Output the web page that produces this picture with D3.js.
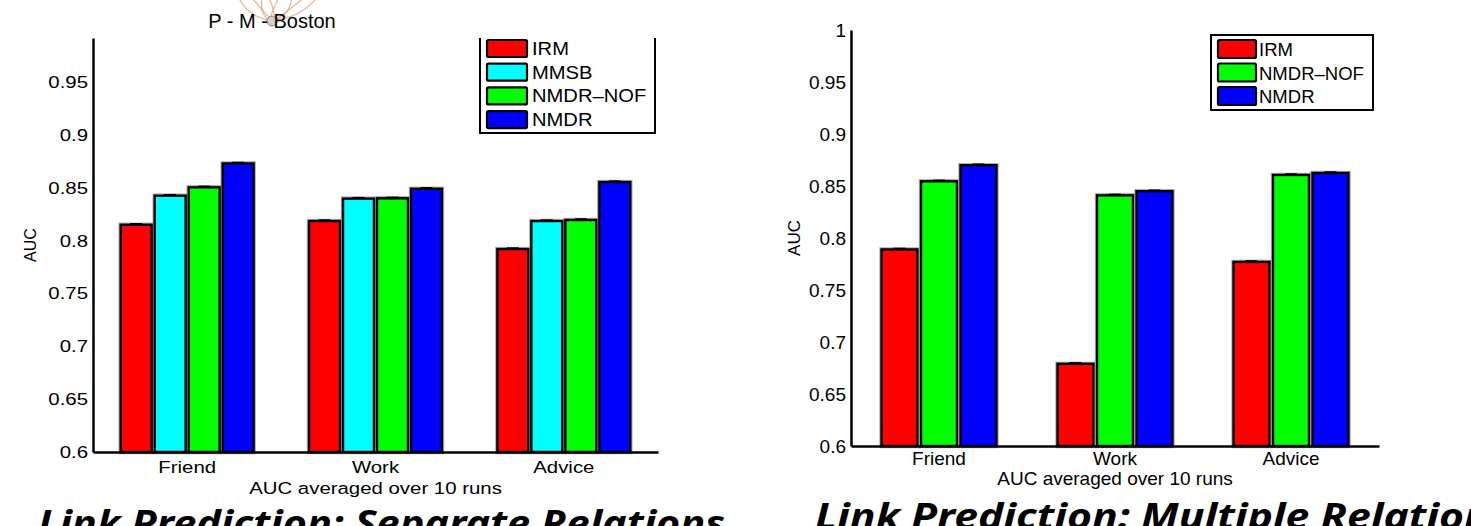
<!DOCTYPE html>
<html>
<head>
<meta charset="utf-8">
<script src="https://cdn.jsdelivr.net/npm/d3@7"></script>
<style>
  html, body { margin: 0; padding: 0; background: #fff; }
  svg { display: block; }
</style>
</head>
<body>
<div id="chart"></div>
<script>
// --- DATA ---
const categories = ["Friend", "Work", "Advice"];

// left panel: separate relations
const sepMethods = ["IRM", "MMSB", "NMDR\u2013NOF", "NMDR"];
const sepIRM  = [0.815, 0.8185, 0.792];
const sepMMSB = [0.8425, 0.8397, 0.8185];
const sepNOF  = [0.8504, 0.840, 0.8195];
const sepNMDR = [0.873, 0.849, 0.8554];
const sepTicks = [0.6, 0.65, 0.7, 0.75, 0.8, 0.85, 0.9, 0.95];

// right panel: multiple relations
const mulMethods = ["IRM", "NMDR\u2013NOF", "NMDR"];
const mulIRM  = [0.789, 0.679, 0.777];
const mulNOF  = [0.8545, 0.841, 0.8606];
const mulNMDR = [0.870, 0.845, 0.8625];
const mulTicks = [0.6, 0.65, 0.7, 0.75, 0.8, 0.85, 0.9, 0.95, 1];

const methodColor = {
  "IRM": "#ff0000",
  "MMSB": "#00ffff",
  "NMDR\u2013NOF": "#00ff00",
  "NMDR": "#0000ff"
};

const WIDTH = 1471, HEIGHT = 526;
const FONT = "'Liberation Sans', Arial, Helvetica, sans-serif";

const svg = d3.select("#chart").append("svg")
  .attr("width", WIDTH).attr("height", HEIGHT)
  .attr("viewBox", [0, 0, WIDTH, HEIGHT])
  .style("font-family", FONT);

// text placed at (x,y), optionally stretched horizontally
function label(g, x, y, s, size, sx, anchor, rotate) {
  const t = g.append("text")
    .attr("transform", `translate(${x},${y})` + (rotate ? ` rotate(${rotate})` : "") + ` scale(${sx},1)`)
    .attr("font-size", size)
    .attr("text-anchor", anchor || "start")
    .attr("fill", "#000")
    .text(s);
  return t;
}

function panel(cfg) {
  const g = svg.append("g");
  const x = d3.scaleBand().domain(categories).range([cfg.left, cfg.right]).padding(0);
  const inner = d3.scaleBand().domain(cfg.methods)
    .range([-cfg.groupW / 2, cfg.groupW / 2])
    .paddingInner(0.09).paddingOuter(0.045);
  const y = d3.scaleLinear().domain(cfg.yDomain).range([cfg.bottom, cfg.top]);

  const rows = categories.map((c, i) => ({
    cat: c,
    vals: cfg.methods.map((m, j) => ({ method: m, value: cfg.series[j][i] }))
  }));

  const groups = g.selectAll(".grp").data(rows).join("g")
    .attr("transform", d => `translate(${x(d.cat) + x.bandwidth() / 2},0)`);

  // soft grey halo behind the black outlines
  groups.selectAll(".halo").data(d => d.vals).join("rect")
    .attr("x", d => inner(d.method))
    .attr("y", d => y(d.value))
    .attr("width", inner.bandwidth())
    .attr("height", d => y(cfg.yDomain[0]) - y(d.value))
    .attr("fill", "none")
    .attr("stroke", "#b0b0b0")
    .attr("stroke-width", 4.5);

  groups.selectAll(".bar").data(d => d.vals).join("rect")
    .attr("x", d => inner(d.method))
    .attr("y", d => y(d.value))
    .attr("width", inner.bandwidth())
    .attr("height", d => y(cfg.yDomain[0]) - y(d.value))
    .attr("fill", d => methodColor[d.method])
    .attr("stroke", "#000")
    .attr("stroke-width", 2.4);

  // tiny error-bar caps
  groups.selectAll(".cap").data(d => d.vals).join("line")
    .attr("x1", d => inner(d.method) + inner.bandwidth() / 2 - 6)
    .attr("x2", d => inner(d.method) + inner.bandwidth() / 2 + 6)
    .attr("y1", d => y(d.value) - 1)
    .attr("y2", d => y(d.value) - 1)
    .attr("stroke", "#000")
    .attr("stroke-width", 1.5);

  // y axis
  const ya = g.append("g")
    .attr("transform", `translate(${cfg.left},0)`)
    .call(d3.axisLeft(y).tickValues(cfg.ticks).tickFormat(d3.format("")).tickSize(0).tickSizeOuter(0).tickPadding(cfg.tickPad / cfg.sx));
  ya.select(".domain").attr("stroke", "#000").attr("stroke-width", 2.5);
  ya.selectAll("text")
    .attr("font-size", cfg.fs).attr("font-family", FONT).attr("fill", "#000")
    .attr("transform", `scale(${cfg.sx},1)`);

  // x axis
  const xa = g.append("g")
    .attr("transform", `translate(0,${cfg.bottom})`)
    .call(d3.axisBottom(x).tickSize(0).tickSizeOuter(0).tickPadding(cfg.xPad));
  xa.select(".domain").attr("stroke", "#000").attr("stroke-width", 2.5);
  xa.selectAll("text")
    .attr("font-size", cfg.fs).attr("font-family", FONT).attr("fill", "#000")
    .attr("transform", `scale(${cfg.sx},1)`)
    .attr("x", 0);
  // keep stretched labels centred on their tick
  xa.selectAll(".tick text").attr("text-anchor", "middle");

  // axis titles
  label(g, (cfg.left + cfg.right) / 2, cfg.xTitleY, "AUC averaged over 10 runs", cfg.fs, cfg.sx, "middle");
  label(g, cfg.yTitleX, (cfg.top + cfg.bottom) / 2, "AUC", cfg.yTitleFs, 1, "middle", -90);

  // legend
  const L = cfg.legend;
  const lg = g.append("g");
  if (L.noTop) {
    lg.append("path")
      .attr("d", `M${L.x0},${L.y0}V${L.y1}H${L.x1}V${L.y0}`)
      .attr("fill", "#fff").attr("stroke", "#000").attr("stroke-width", 2);
  } else {
    lg.append("rect")
      .attr("x", L.x0).attr("y", L.y0).attr("width", L.x1 - L.x0).attr("height", L.y1 - L.y0)
      .attr("fill", "#fff").attr("stroke", "#000").attr("stroke-width", 2);
  }
  cfg.methods.forEach((m, i) => {
    const yy = L.sy + i * L.step;
    lg.append("rect")
      .attr("x", L.sx0).attr("y", yy).attr("width", L.sw).attr("height", L.sh)
      .attr("rx", 1.5)
      .attr("fill", methodColor[m]).attr("stroke", "#000").attr("stroke-width", 2.2);
    label(lg, L.tx, yy + L.base, m, L.fs, L.tsx, "start");
  });
}

panel({
  methods: sepMethods,
  series: [sepIRM, sepMMSB, sepNOF, sepNMDR],
  ticks: sepTicks,
  left: 93, right: 658, top: 38, bottom: 452,
  yDomain: [0.6, 0.9917],
  groupW: 136,
  fs: 17, sx: 1.2, tickPad: 5, xPad: 9,
  xTitleY: 494, yTitleX: 36, yTitleFs: 16,
  legend: { noTop: true, x0: 480, x1: 655, y0: 38, y1: 133,
            sx0: 487, sw: 40, sy: 40, sh: 17, step: 23.7,
            tx: 532, base: 15, fs: 18, tsx: 1.12 }
});

panel({
  methods: mulMethods,
  series: [mulIRM, mulNOF, mulNMDR],
  ticks: mulTicks,
  left: 851, right: 1379, top: 30, bottom: 446,
  yDomain: [0.6, 1],
  groupW: 118.5,
  fs: 19, sx: 1, tickPad: 5, xPad: 6,
  xTitleY: 485, yTitleX: 800, yTitleFs: 17,
  legend: { noTop: false, x0: 1211, x1: 1373, y0: 35, y1: 110,
            sx0: 1218, sw: 38, sy: 40, sh: 18, step: 23.5,
            tx: 1259, base: 16, fs: 18.5, tsx: 1 }
});

// --- overlapping network node from the slide ---
const deco = svg.append("g");
const node = [272, 21];
[[238, -4], [250, -4], [262, -4], [268, -4], [280, -4], [292, -4], [306, -4], [318, -4]].forEach((p, i) => {
  const cx = (p[0] + node[0]) / 2 + (i % 2 ? 8 : -8);
  deco.append("path")
    .attr("d", `M${p[0]},${p[1]}Q${cx},${node[1] - 4} ${node[0]},${node[1]}`)
    .attr("fill", "none")
    .attr("stroke", "rgba(215,140,90,0.6)")
    .attr("stroke-width", 1.3);
});
deco.append("circle").attr("cx", node[0]).attr("cy", node[1]).attr("r", 5)
  .attr("fill", "#d0d0d0").attr("stroke", "#888").attr("stroke-width", 1);
deco.append("text").attr("x", 272).attr("y", 28).attr("text-anchor", "middle")
  .attr("font-size", 20).attr("fill", "#000").text("P - M - Boston");

// --- slide titles, cut off by the frame ---
const TFONT = "'Noto Sans', 'Open Sans', Lato, sans-serif";
svg.append("text").attr("x", 38).attr("y", 536)
  .attr("font-family", TFONT).attr("font-size", 36)
  .attr("font-weight", "bold").attr("font-style", "italic")
  .attr("textLength", 687).attr("lengthAdjust", "spacingAndGlyphs")
  .text("Link Prediction: Separate Relations");
svg.append("text").attr("x", 815).attr("y", 529)
  .attr("font-family", TFONT).attr("font-size", 36)
  .attr("font-weight", "bold").attr("font-style", "italic")
  .attr("textLength", 695).attr("lengthAdjust", "spacingAndGlyphs")
  .text("Link Prediction: Multiple Relations");
</script>
</body>
</html>
